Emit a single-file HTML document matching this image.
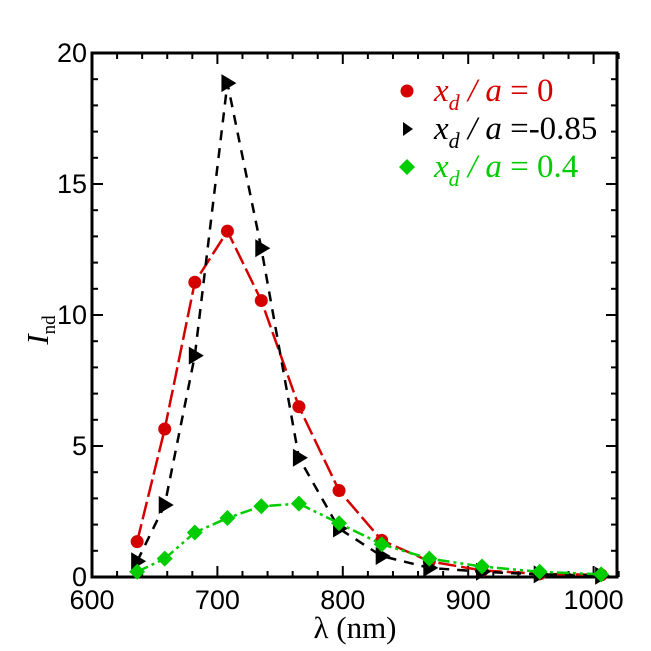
<!DOCTYPE html>
<html><head><meta charset="utf-8"><style>
html,body{margin:0;padding:0;background:#fff;}
svg{display:block;}
</style></head><body>
<svg id="chart" width="651" height="651" xmlns="http://www.w3.org/2000/svg"></svg>
<script>
const wavelengths = [636, 658, 682, 708, 735, 765, 797, 831, 869, 911, 957, 1006];
const redValues = [1.35, 5.65, 11.25, 13.2, 10.55, 6.5, 3.3, 1.4, 0.6, 0.25, 0.12, 0.08];
const blackValues = [0.6, 2.75, 8.45, 18.85, 12.55, 4.55, 1.85, 0.8, 0.35, 0.2, 0.1, 0.05];
const greenValues = [0.2, 0.7, 1.7, 2.25, 2.7, 2.8, 2.05, 1.25, 0.7, 0.4, 0.2, 0.1];
const xTicks = [600, 700, 800, 900, 1000];
const yTicks = [0, 5, 10, 15, 20];

const NS = 'http://www.w3.org/2000/svg';
const svg = document.getElementById('chart');
const L = 92, R = 617, T = 53, B = 577;
const X = v => L + (v - 600) * 1.254;
const Y = v => B - v * (B - T) / 20;
function el(tag, attrs, parent) {
  const e = document.createElementNS(NS, tag);
  for (const k in attrs) e.setAttribute(k, attrs[k]);
  (parent || svg).appendChild(e);
  return e;
}
for (let v = 600; v <= 1020; v += 20) {
  const major = v % 100 === 0;
  const len = major ? 11 : 6;
  const t1 = el('line', {x1: X(v), x2: X(v), y1: B, y2: B - len, stroke: '#000', 'stroke-width': 2});
  
  
  const t2 = el('line', {x1: X(v), x2: X(v), y1: T, y2: T + len, stroke: '#000', 'stroke-width': 2});
  
  
}
for (let v = 0; v <= 20; v += 1) {
  const major = v % 5 === 0;
  const len = major ? 11 : 6;
  const t1 = el('line', {x1: L, x2: L + len, y1: Y(v), y2: Y(v), stroke: '#000', 'stroke-width': 2});
  
  
  const t2 = el('line', {x1: R, x2: R - len, y1: Y(v), y2: Y(v), stroke: '#000', 'stroke-width': 2});
  
  
}
const frame = el('rect', {x: L, y: T, width: R - L, height: B - T, fill: 'none', stroke: '#000', 'stroke-width': 3});


xTicks.forEach(v => {
  const t = el('text', {x: X(v), y: 609, 'text-anchor': 'middle', 'font-family': 'Liberation Sans, sans-serif', 'font-size': 27});
  t.textContent = v;
  
  
});
yTicks.forEach(v => {
  const t = el('text', {x: L - 5, y: Y(v) + 9, 'text-anchor': 'end', 'font-family': 'Liberation Sans, sans-serif', 'font-size': 27});
  t.textContent = v;
  
  
});
const xt = el('text', {x: 355, y: 638, 'text-anchor': 'middle', 'font-family': 'Liberation Serif, serif', 'font-size': 31});
xt.textContent = 'λ (nm)';


const yt = el('text', {transform: 'translate(48,330) rotate(-90)', 'text-anchor': 'middle', 'font-family': 'Liberation Serif, serif', 'font-size': 31});
yt.innerHTML = '<tspan font-style="italic">I</tspan><tspan font-size="19" dy="7">nd</tspan>';



function series(vals, color, dash, name, marker) {
  const pts = wavelengths.map((w, i) => X(w) + ',' + Y(vals[i])).join(' ');
  const pl = el('polyline', {points: pts, fill: 'none', stroke: color, 'stroke-width': 2.5, 'stroke-dasharray': dash});
  
  
  wavelengths.forEach((w, i) => {
    const m = marker(X(w), Y(vals[i]));
    
    
  });
}
const circ = (x, y) => el('circle', {cx: x, cy: y, r: 6.5, fill: '#d40000'});
const tri = (x, y) => el('polygon', {points: `${x-6},${y-9} ${x+9},${y} ${x-6},${y+9}`, fill: '#000'});
const dia = (x, y) => el('polygon', {points: `${x},${y-8} ${x+8},${y} ${x},${y+8} ${x-8},${y}`, fill: '#00cc00'});
series(redValues, '#d40000', '18 5', 'red-series', circ);
series(blackValues, '#000', '10 8', 'black-series', tri);
series(greenValues, '#00cc00', '12 4 3 4 3 4', 'green-series', dia);

const lg = el('g', {});


const entries = [
  ['#d40000', '= 0', 'circle', 91],
  ['#000', '=-0.85', 'tri', 129],
  ['#00cc00', '= 0.4', 'dia', 167]
];
entries.forEach(([c, txt, mk, y]) => {
  let m;
  if (mk === 'circle') m = el('circle', {cx: 407, cy: y, r: 6.5, fill: c}, lg);
  else if (mk === 'tri') m = el('polygon', {points: `403,${y-7} 413,${y} 403,${y+7}`, fill: c}, lg);
  else m = el('polygon', {points: `407,${y-8} 415,${y} 407,${y+8} 399,${y}`, fill: c}, lg);
  
  
  const t = el('text', {x: 434, y: y + 10, fill: c, 'font-family': 'Liberation Serif, serif', 'font-size': 33}, lg);
  t.innerHTML = '<tspan font-style="italic">x</tspan><tspan font-style="italic" font-size="22" dy="9">d</tspan><tspan dy="-9" font-style="italic"> / a </tspan><tspan>' + txt + '</tspan>';
  
  
});
</script>
</body></html>
